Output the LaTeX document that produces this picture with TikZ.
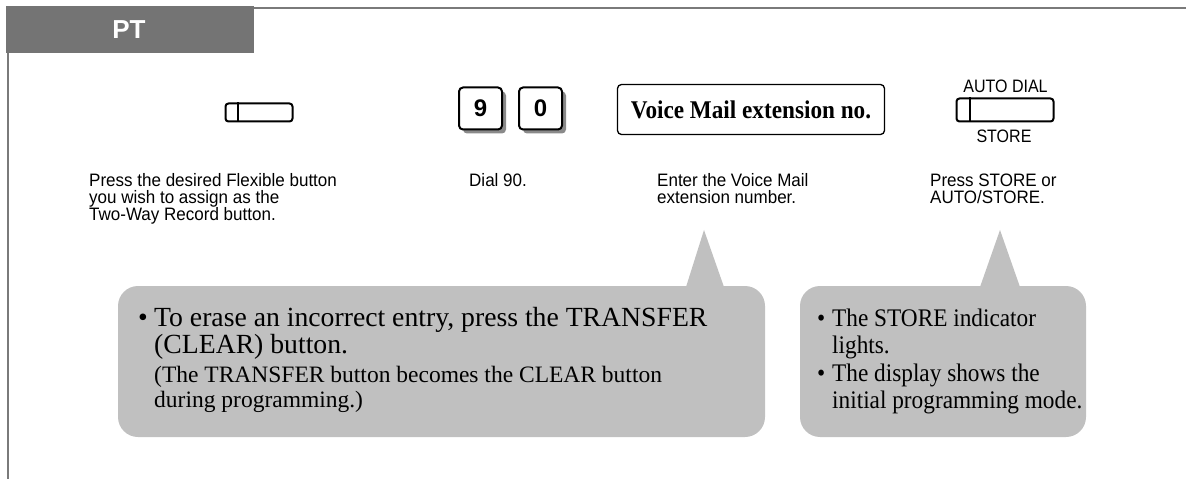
\documentclass[tikz,border=0pt]{standalone}
\usepackage{fontspec}
\setmainfont{Liberation Serif}
\setsansfont{Liberation Sans}
\newfontfamily\serifcond{Liberation Serif}[FakeStretch=0.92]
\newfontfamily\serifvm{Liberation Serif}[FakeStretch=0.91]
\newfontfamily\sanscond{Liberation Sans}[FakeStretch=0.89]
\newfontfamily\sansdesc{Liberation Sans}[FakeStretch=0.945]
\usetikzlibrary{shadows}
\definecolor{bargray}{HTML}{747474}
\definecolor{linegray}{HTML}{7A7A7A}
\definecolor{bubblegray}{HTML}{C0C0C0}
\definecolor{shadowgray}{HTML}{8A8A8A}
\begin{document}
\begin{tikzpicture}[x=1pt,y=-1pt,
  btn/.style={draw=black, line width=2pt, rounded corners=3pt, fill=white, inner sep=0pt},
  keybox/.style={draw=black, line width=2pt, rounded corners=4pt, fill=white,
    minimum width=43pt, minimum height=42pt, inner sep=0pt,
    font=\sffamily\bfseries\fontsize{24}{24}\selectfont,
    drop shadow={shadow xshift=4pt, shadow yshift=-4pt, fill=shadowgray, opacity=1}},
  desc/.style={anchor=base west, inner sep=0pt, font=\sansdesc\fontsize{18}{18}\selectfont},
  lbl/.style={anchor=base, inner sep=0pt, font=\sanscond\fontsize{18}{18}\selectfont},
  bubtxt/.style={anchor=base west, inner sep=0pt, font=\fontsize{27.7}{27.7}\selectfont},
  bubsmall/.style={anchor=base west, inner sep=0pt, font=\fontsize{23.5}{23.5}\selectfont},
  bubcond/.style={anchor=base west, inner sep=0pt, font=\serifcond\fontsize{25.3}{25.3}\selectfont},
  bubble/.style={fill=bubblegray, rounded corners=20pt}
]
\useasboundingbox (0,0) rectangle (1186,489);

% header
\fill[bargray] (6,6) rectangle (254,53);
\node[text=white, font=\sffamily\bfseries\fontsize{26}{26}\selectfont, inner sep=0pt] (pt) at (129,30) {PT};
\draw[linegray, line width=2pt] (254,8) -- (1186,8);
\draw[linegray, line width=1.5pt] (8,53) -- (8,479);

% flexible button
\node[btn, minimum width=67pt, minimum height=18pt] (fb) at (259,112.5) {};
\draw[line width=2pt] ([xshift=13pt]fb.north west) -- ([xshift=13pt]fb.south west);

% keys
\node[keybox] (k9) at (480.5,108.5) {9};
\node[keybox] (k0) at (540.5,108.5) {0};

% voice mail box
\node[draw=black, line width=1.3pt, rounded corners=4pt, minimum width=267pt, minimum height=50pt,
  inner sep=0pt, font=\serifvm\bfseries\fontsize{25.5}{25.5}\selectfont] (vm) at (751,109.5) {Voice Mail extension no.};

% auto dial / store button
\node[btn, minimum width=97pt, minimum height=23pt] (ab) at (1005,110) {};
\draw[line width=2pt] ([xshift=14pt]ab.north west) -- ([xshift=14pt]ab.south west);
\node[lbl] (ad) at (1005.5,93) {AUTO DIAL};
\node[lbl] (st) at (1004,142.5) {STORE};

% descriptions
\node[desc] (d1a) at (89,187) {Press the desired Flexible button};
\node[desc] (d1b) at (89,204) {you wish to assign as the};
\node[desc] (d1c) at (89,221) {Two-Way Record button.};
\node[desc] (d2) at (469,187) {Dial 90.};
\node[desc] (d3a) at (657,187) {Enter the Voice Mail};
\node[desc] (d3b) at (657,204) {extension number.};
\node[desc] (d4a) at (930,187) {Press STORE or};
\node[desc] (d4b) at (930,204) {AUTO/STORE.};

% bubble 1
\fill[bubble] (118,286) rectangle (765,437);
\fill[bubblegray] (686,287) -- (704,230) -- (724,287) -- cycle;
\node[bubtxt] (b1bul) at (138,326) {\textbullet};
\node[bubtxt] (b1a) at (154,326) {To erase an incorrect entry, press the TRANSFER};
\node[bubtxt] (b1b) at (154,353) {(CLEAR) button.};
\node[bubsmall] (b1c) at (154,382) {(The TRANSFER button becomes the CLEAR button};
\node[bubsmall] (b1d) at (154,407) {during programming.)};

% bubble 2
\fill[bubble] (800,286) rectangle (1086,437);
\fill[bubblegray] (980,287) -- (1000,230) -- (1020,287) -- cycle;
\node[bubcond] (b2bul1) at (817,326) {\textbullet};
\node[bubcond] (b2a) at (832,326) {The STORE indicator};
\node[bubcond] (b2b) at (832,353) {lights.};
\node[bubcond] (b2bul2) at (817,381) {\textbullet};
\node[bubcond] (b2c) at (832,381) {The display shows the};
\node[bubcond] (b2d) at (832,408) {initial programming mode.};
\end{tikzpicture}
\end{document}
